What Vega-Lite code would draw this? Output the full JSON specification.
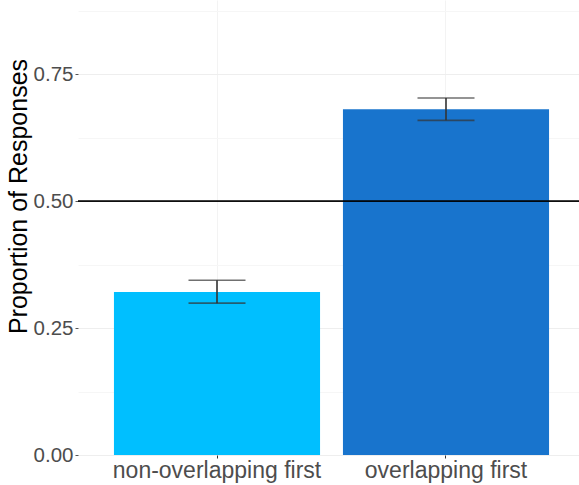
{
  "$schema": "https://vega.github.io/schema/vega-lite/v6.json",
  "width": 501,
  "height": 455,
  "autosize": {"type": "none"},
  "padding": {"left": 78, "top": 0, "right": 0, "bottom": 30},
  "background": "white",
  "config": {
    "view": {"stroke": null},
    "font": "Liberation Sans"
  },
  "data": {
    "values": [
      {"order": "non-overlapping first", "prop": 0.321, "lo": 0.299, "hi": 0.344},
      {"order": "overlapping first", "prop": 0.681, "lo": 0.659, "hi": 0.703}
    ]
  },
  "encoding": {
    "x": {
      "field": "order",
      "type": "nominal",
      "sort": null,
      "scale": {"range": [0, 507], "paddingInner": 0.1, "paddingOuter": 0.157},
      "axis": {
        "title": null,
        "labelAngle": 0,
        "labelFontSize": 23,
        "labelLimit": 0,
        "labelColor": "#4D4D4D",
        "labelPadding": 1,
        "domain": false,
        "ticks": true,
        "tickSize": 3,
        "tickColor": "#333333",
        "grid": true,
        "gridColor": "#F3F3F3",
        "gridWidth": 1
      }
    }
  },
  "layer": [
    {
      "mark": {"type": "bar"},
      "encoding": {
        "y": {
          "field": "prop",
          "type": "quantitative",
          "title": "Proportion of Responses",
          "scale": {"domain": [0, 0.896], "nice": false, "zero": true},
          "axis": {
            "title": "Proportion of Responses",
            "titleFontSize": 25,
            "titleFontWeight": "normal",
            "titleColor": "#000000",
            "titleBaseline": "alphabetic",
            "titleX": -52,
            "titleY": 196,
            "titleAngle": -90,
            "values": [0, 0.125, 0.25, 0.375, 0.5, 0.625, 0.75, 0.875],
            "labelExpr": "(datum.value * 4) % 1 == 0 ? format(datum.value, '.2f') : ''",
            "labelFontSize": 20.5,
            "labelColor": "#4D4D4D",
            "labelPadding": 2,
            "domain": false,
            "tickSize": 3,
            "tickColor": {"condition": {"test": "(datum.value * 4) % 1 == 0", "value": "#555555"}, "value": "transparent"},
            "grid": true,
            "gridColor": {"condition": {"test": "(datum.value * 4) % 1 == 0", "value": "#EEEEEE"}, "value": "#F6F6F6"},
            "gridWidth": 1
          }
        },
        "color": {
          "field": "order",
          "type": "nominal",
          "scale": {"domain": ["non-overlapping first", "overlapping first"], "range": ["#00BFFF", "#1874CD"]},
          "legend": null
        }
      }
    },
    {
      "mark": {
        "type": "errorbar",
        "ticks": {"size": 57, "thickness": 1.6, "color": "#333333"},
        "rule": {"strokeWidth": 1.6, "color": "#333333"}
      },
      "encoding": {
        "y": {"field": "lo", "type": "quantitative", "title": "Proportion of Responses"},
        "y2": {"field": "hi"}
      }
    },
    {
      "mark": {"type": "rule", "color": "#000000", "strokeWidth": 1.2},
      "encoding": {
        "y": {"datum": 0.5, "title": "Proportion of Responses"},
        "x": null
      }
    }
  ]
}
